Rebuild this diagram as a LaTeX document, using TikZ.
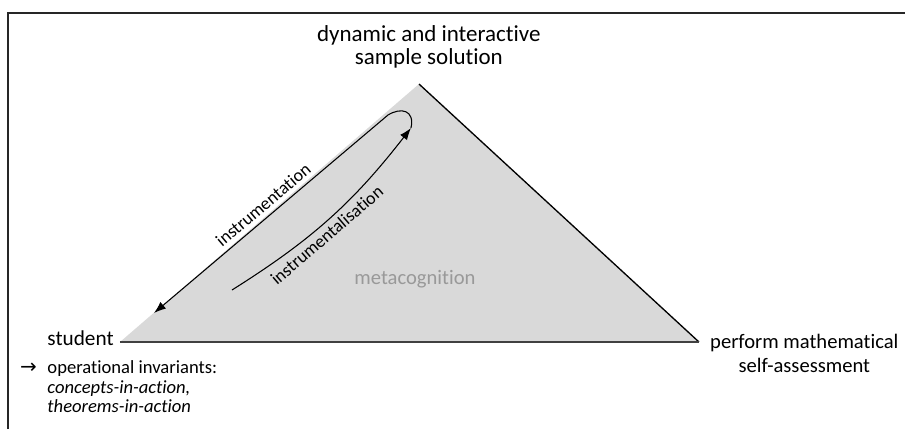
\documentclass[tikz,border=0pt]{standalone}
\usepackage{fontspec}
\setmainfont{Carlito}[Ligatures=NoCommon]
\newfontfamily\symfont{DejaVu Sans}
\usepackage{tikz}
\usetikzlibrary{
    arrows.meta,
    positioning
}

\tikzset{
    lbl/.style={font=\fontsize{16}{18}\selectfont, inner sep=2pt, align=center},
    small/.style={font=\fontsize{14}{15}\selectfont, inner sep=2pt},
    tilt/.style={font=\fontsize{13.5}{15}\selectfont, inner sep=2pt, sloped},
    flow/.style={line width=0.8pt, -{Latex[length=9pt,width=6.5pt]}}
}

\begin{document}
\begin{tikzpicture}
    \useasboundingbox (0, 0) rectangle (23.945, 11.351);
    \draw[line width=1pt, black!85] (0.212, 0) -- (0.212, 11.006) -- (23.945, 11.006);

    % triangle corners
    \coordinate (apex) at (11.086, 9.128);
    \coordinate (left) at (3.175, 2.302);
    \coordinate (right) at (18.494, 2.302);
    \fill[black!15] (left) -- (apex) -- (right) -- cycle;
    \draw[line width=1pt] (apex) -- (right);
    \draw[line width=1.6pt, black!75] (left) -- (right);

    \node[lbl, font=\fontsize{17.3}{18}\selectfont] (sol) [above=0.33cm of apex, xshift=0.26cm] {dynamic and interactive\\sample solution};
    \node[lbl] (student) [left=0.09cm of left, yshift=0.1cm] {student};
    \node[lbl, font=\fontsize{15.5}{17.5}\selectfont] (assess) [right=0.22cm of right, yshift=-0.30cm] {perform mathematical\\self-assessment};
    \node[small, align=left, below=0.23cm of student.south west, anchor=north west] (inv)
        {\llap{{\symfont\fontsize{15}{15}\selectfont →}\hspace{8pt}}operational invariants:\\
         \textit{concepts-in-action,}\\
         \textit{theorems-in-action}};
    \node[font=\fontsize{15.5}{18}\selectfont, text=black!40] (meta) at (10.98, 3.969) {metacognition};

    % instrumental genesis
    \coordinate (isa) at (6.138, 3.678);
    \coordinate (turn) at (10.874, 7.964);
    \coordinate (bend) at (10.266, 8.308);
    \coordinate (itn) at (4.075, 3.069);
    \draw[flow] (isa) to[bend right=10] node[tilt, below=1pt, pos=0.44] {instrumentalisation} (turn);
    \draw[flow] (turn) .. controls (10.980, 8.440) and (10.610, 8.519) .. (bend)
        -- node[tilt, above=2pt, pos=0.5] {instrumentation} (itn);
\end{tikzpicture}
\end{document}
